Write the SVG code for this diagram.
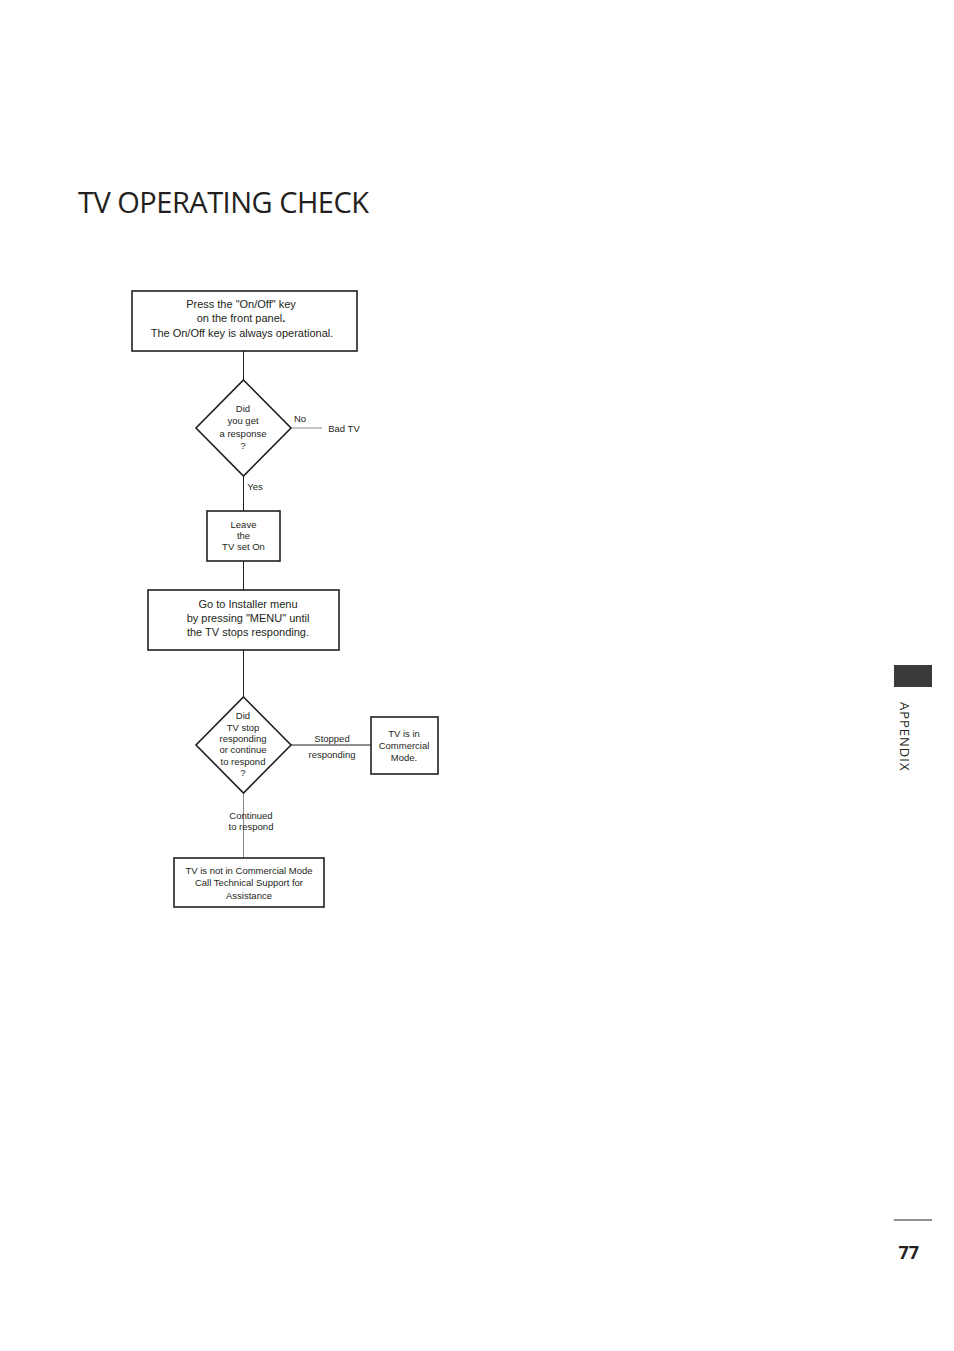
<svg xmlns="http://www.w3.org/2000/svg" width="954" height="1351" viewBox="0 0 954 1351">
<style>
.b{fill:#fff;stroke:#231f20;stroke-width:1.6}
.t{font-family:"Liberation Sans",Arial,sans-serif;font-size:11px;fill:#231f20;text-anchor:middle}
.s{font-size:9.5px}
.l{fill:none;stroke:#231f20;stroke-width:1}
.g{fill:none;stroke:#888;stroke-width:1}
</style>
<rect width="954" height="1351" fill="#fff"/>
<text x="78" y="213" font-family="Open Sans,Lato,sans-serif" font-size="29" fill="#231f20" letter-spacing="-0.5">TV OPERATING CHECK</text>
<g id="connectors">
<line class="l" x1="243.5" y1="351" x2="243.5" y2="380"/>
<line class="g" x1="291" y1="428" x2="322" y2="428"/>
<line class="l" x1="243.5" y1="476" x2="243.5" y2="511"/>
<line class="l" x1="243.5" y1="561" x2="243.5" y2="590"/>
<line class="l" x1="243.5" y1="650" x2="243.5" y2="697"/>
<line class="l" x1="291" y1="745" x2="371" y2="745"/>
<line class="g" x1="243.5" y1="793" x2="243.5" y2="858"/>
<text class="t s" x="300" y="422">No</text>
<text class="t s" x="344" y="432">Bad TV</text>
<text class="t s" x="255" y="490">Yes</text>
<text class="t s" x="332" y="742">Stopped</text>
<text class="t s" x="332" y="758">responding</text>
<text class="t s" x="251" y="819" text-anchor="start">Continued</text>
<text class="t s" x="251" y="830" text-anchor="start">to respond</text>
</g>
<g id="n1"><rect class="b" x="132" y="291" width="225" height="60"/>
<text class="t" x="241" y="308">Press the "On/Off" key</text>
<text class="t" x="241" y="322">on the front panel<tspan font-weight="bold">.</tspan></text>
<text class="t" x="242" y="337" font-size="9">The On/Off key is always operational.</text></g>
<g id="d1"><polygon class="b" points="243.5,380 291,428 243.5,476 196,428"/>
<text class="t s" x="243" y="412">Did</text><text class="t s" x="243" y="424">you get</text><text class="t s" x="243" y="437">a response</text><text class="t s" x="243" y="449">?</text></g>
<g id="n2"><rect class="b" x="207" y="511" width="73" height="50"/>
<text class="t s" x="243.5" y="528">Leave</text><text class="t s" x="243.5" y="539">the</text><text class="t s" x="243.5" y="550">TV set On</text></g>
<g id="n3"><rect class="b" x="148" y="590" width="191" height="60"/>
<text class="t" x="248" y="608">Go to Installer menu</text><text class="t" x="248" y="622">by pressing "MENU" until</text><text class="t" x="248" y="636">the TV stops responding.</text></g>
<g id="d2"><polygon class="b" points="243.5,697 291,745 243.5,793 196,745"/>
<text class="t s" x="243" y="719">Did</text><text class="t s" x="243" y="731">TV stop</text><text class="t s" x="243" y="742">responding</text><text class="t s" x="243" y="753">or continue</text><text class="t s" x="243" y="765">to respond</text><text class="t s" x="243" y="776">?</text></g>
<g id="n4"><rect class="b" x="371" y="717" width="67" height="57"/>
<text class="t s" x="404" y="737">TV is in</text><text class="t s" x="404" y="749">Commercial</text><text class="t s" x="404" y="761">Mode.</text></g>
<g id="n5"><rect class="b" x="174" y="858" width="150" height="49"/>
<text class="t s" x="249" y="874">TV is not in Commercial Mode</text><text class="t s" x="249" y="886">Call Technical Support for</text><text class="t s" x="249" y="899">Assistance</text></g>
<rect x="894" y="665" width="38" height="22" fill="#3a3a3a"/>
<text transform="translate(900,702) rotate(90)" font-family="Open Sans,Lato,sans-serif" font-size="13" fill="#231f20" letter-spacing="1">APPENDIX</text>
<line x1="894" y1="1220" x2="932" y2="1220" stroke="#231f20" stroke-width="1"/>
<text x="919" y="1259" font-family="Open Sans,Lato,sans-serif" font-size="18" font-weight="bold" fill="#231f20" text-anchor="end">77</text>
</svg>
